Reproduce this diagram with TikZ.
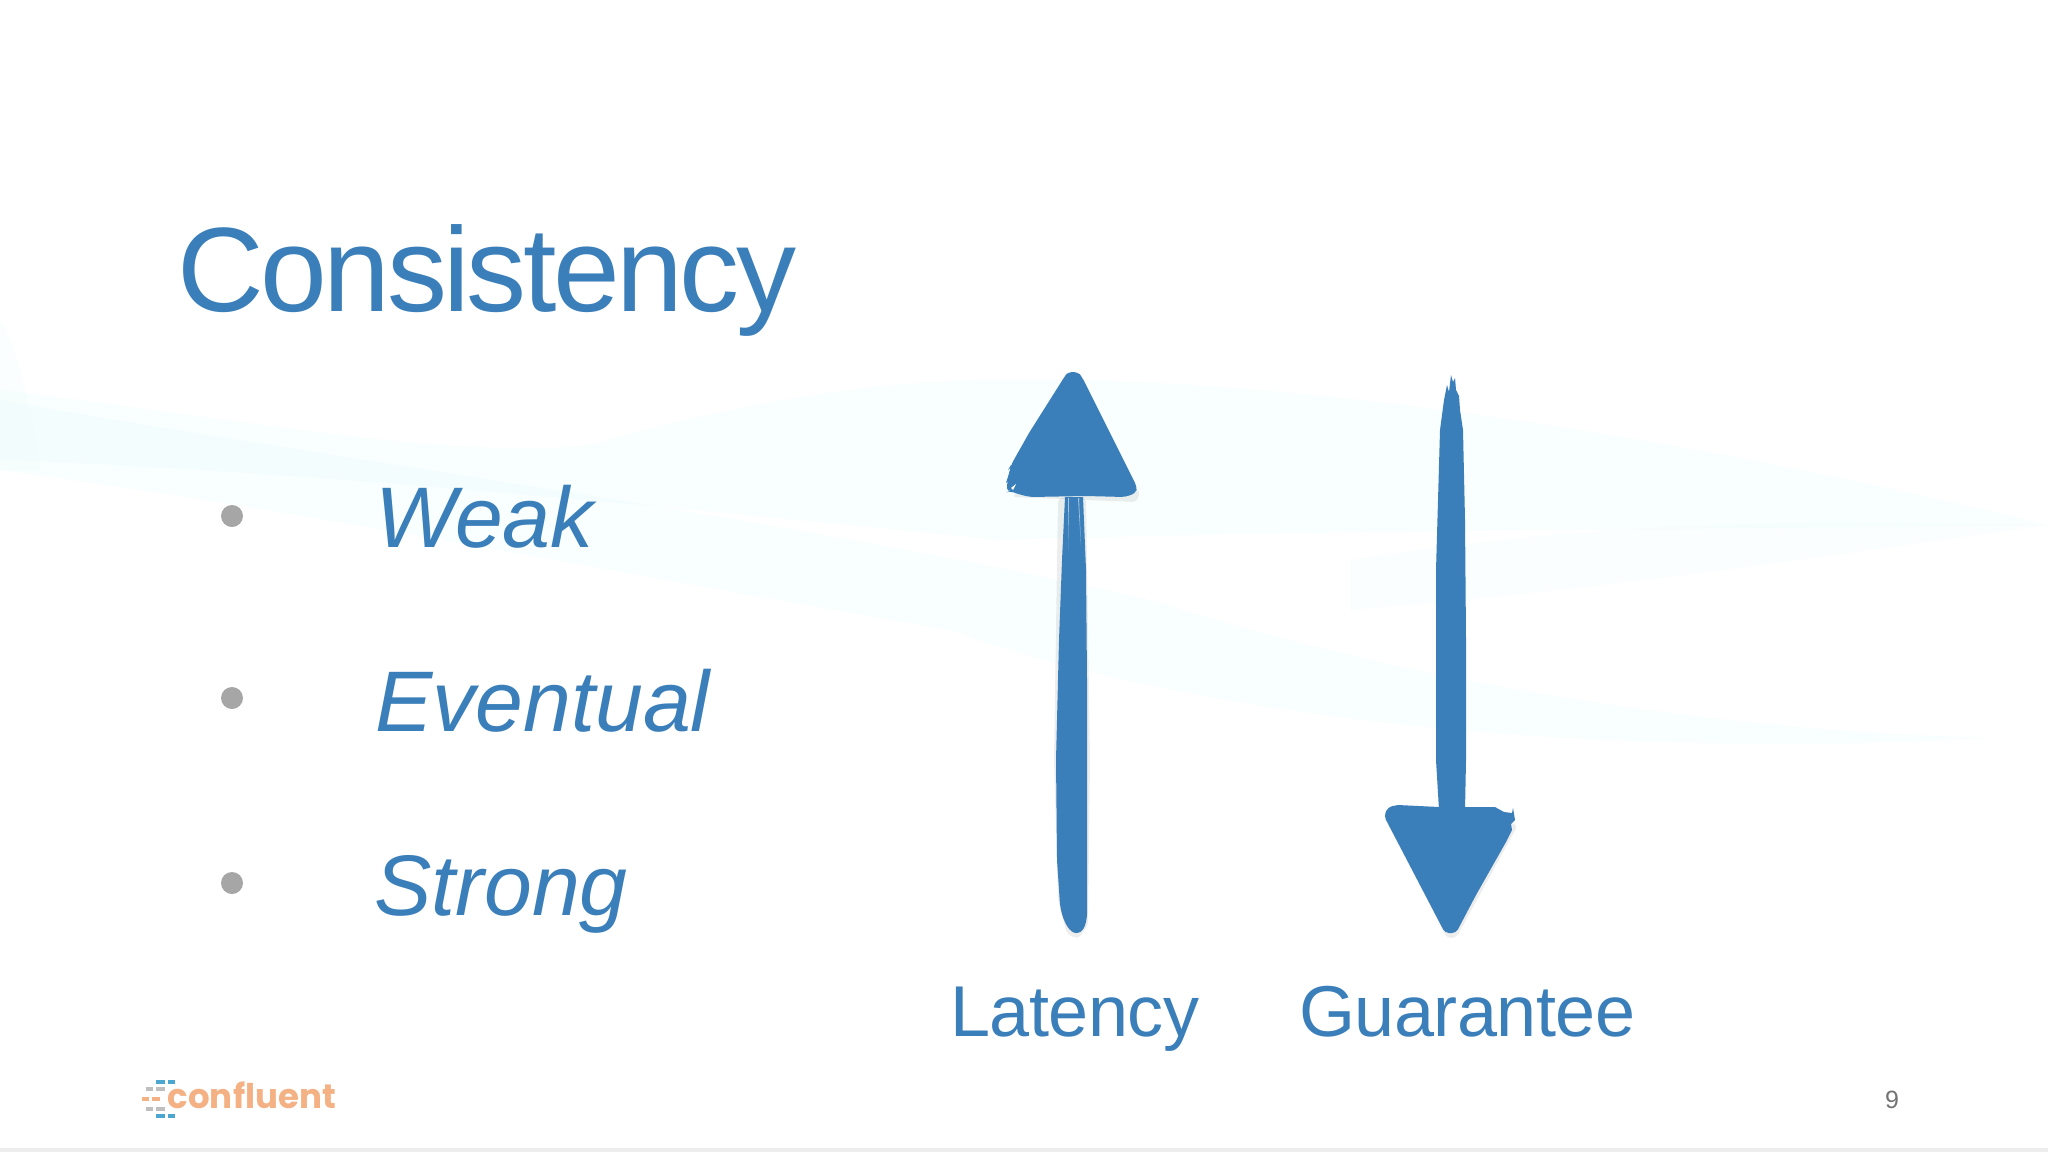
\documentclass[tikz,border=0pt]{standalone}
\usepackage{fontspec}
\setmainfont{Liberation Sans}
\newfontfamily\logofont{Poppins}
\definecolor{slideblue}{HTML}{3B7FBA}
\definecolor{bulletgray}{HTML}{A6A6A6}
\definecolor{wavecyan}{HTML}{E6FBFB}
\definecolor{logoorange}{HTML}{F4B183}
\definecolor{logoblue}{HTML}{4BA6D0}
\begin{document}
\begin{tikzpicture}[x=0.5pt,y=-0.5pt,
  lbl/.style={inner sep=0pt,anchor=base west,text=slideblue},
  title/.style={lbl,font=\fontsize{60}{60}\selectfont\addfontfeature{LetterSpace=-2.9}},
  item/.style={lbl,font=\fontsize{43}{43}\selectfont\itshape},
  axis/.style={lbl,font=\fontsize{36}{36}\selectfont\addfontfeature{LetterSpace=-0.8}},
  bull/.style={circle,fill=bulletgray,minimum size=11pt,inner sep=0pt},
  brush/.style={fill=slideblue,rounded corners=2pt},
  shade/.style={fill=black,opacity=0.07,rounded corners=2pt},
  wave/.style={fill=wavecyan,opacity=0.22},
  dsh/.style={line width=1.8pt}]
\useasboundingbox (0,0) rectangle (2048,1152);
\fill[white] (0,0) rectangle (2048,1152);
% background waves
\fill[wave] (0,390) .. controls (250,420) and (450,460) .. (590,445) .. controls (750,400) and (880,380) .. (1000,380) .. controls (1300,375) and (1700,440) .. (2048,525) .. controls (1700,530) and (1300,530) .. (1000,540) .. controls (700,510) and (300,470) .. (0,460) -- cycle;
\fill[wave] (0,400) .. controls (400,470) and (800,520) .. (1150,600) .. controls (1400,680) and (1700,730) .. (1990,738) .. controls (1600,760) and (1200,720) .. (950,630) .. controls (600,570) and (300,510) .. (0,470) -- cycle;
\fill[wavecyan,opacity=0.12] (0,320) .. controls (15,340) and (30,400) .. (40,470) -- (0,470) -- cycle;
\fill[wavecyan,opacity=0.12] (1350,560) .. controls (1600,520) and (1800,520) .. (2048,525) .. controls (1800,560) and (1600,590) .. (1350,610) -- cycle;
\fill[black!7] (0,1148) rectangle (2048,1152);
% title and items
\node[title] (ttl) at (177,311) {Consistency};
\node[bull] (b1) at (232,516) {};
\node[bull] (b2) at (232,698) {};
\node[bull] (b3) at (232,883) {};
\node[item] (weak) at (375,547) {Weak};
\node[item] (even) at (375,731) {Eventual};
\node[item] (strg) at (374,915) {Strong};
% arrow shadows
\fill[shade] (1058,498) -- (1054,760) -- (1058,900) -- (1067,934) -- (1078,939) -- (1088,925) -- (1090,760) -- (1086,498) -- cycle;
\fill[shade] (1012,497) -- (1137,502) -- (1140,490) -- (1020,488) -- cycle;
\fill[shade] (1383,815) -- (1447,938) -- (1456,938) -- (1518,825) -- (1500,820) -- cycle;
% up arrow
\fill[brush] (1065,497) -- (1062,560) -- (1059,640) -- (1056,760) -- (1057,860) -- (1060,905) [sharp corners] .. controls (1064,925) and (1071,933) .. (1076,933) .. controls (1083,933) and (1086,926) .. (1087,915) -- (1087,800) -- (1087,680) -- (1086,570) -- (1083,497) -- cycle;
\fill[brush] (1065,376) -- (1068,372) -- (1078,372) -- (1082,377) -- (1137,487) -- (1136,493) -- (1125,497) -- (1086,496) -- (1030,497) -- (1018,494) -- (1010,491) -- (1007,492) -- (1007,484) -- (1011,465) -- (1029,433) -- cycle;
\fill[white,opacity=.55] (1068,498) -- (1069,498) -- (1068,550) -- cycle (1078,498) -- (1079,498) -- (1081,545) -- cycle;
\fill[white] (1011,488) -- (1016,484) -- (1013,490) -- cycle;
% left-edge fraying of up head
\fill[slideblue] (1011,465) -- (1008,470) -- (1011,467) -- (1006,483) -- (1012,478) -- cycle;
% down arrow
\fill[slideblue] (1451,375) -- (1453,382) -- (1455,378) -- (1456,390) -- (1459,396) -- (1460,410) -- (1463,430) -- (1465,520) -- (1466,640) -- (1466,760) -- (1465,810) -- (1439,810) -- (1436,760) -- (1436,570) -- (1440,430) -- (1444,400) -- (1447,385) -- (1449,392) -- cycle;
\fill[slideblue] (1388,807) -- (1398,805) -- (1439,807) -- (1465,807) -- (1495,807) -- (1504,812) -- (1512,813) -- (1513,808) -- (1515,820) -- (1511,824) -- (1512,830) -- (1506,842) [rounded corners=2pt] -- (1476,895) -- (1456,933) -- (1445,933) -- (1384,816) -- cycle;
% labels
\node[axis] (lat) at (950,1036) {Latency};
\node[axis] (gua) at (1299,1036) {Guarantee};
\node[inner sep=0pt,anchor=base,text=black!55,font=\fontsize{12.5}{12.5}\selectfont] (pg) at (1892,1108) {9};
% logo
\node[inner sep=0pt,anchor=base west,text=logoorange,font=\logofont\bfseries\fontsize{17}{17}\selectfont\addfontfeature{LetterSpace=0.5}] (logo) at (167,1108) {confluent};
\draw[dsh,logoblue] (156,1082) -- (165,1082) (168,1082) -- (175,1082) (156,1116) -- (165,1116) (168,1116) -- (175,1116);
\draw[dsh,black!25] (146,1089) -- (153,1089) (156,1089) -- (165,1089) (146,1109) -- (153,1109) (156,1109) -- (165,1109);
\draw[dsh,logoorange] (142,1099) -- (149,1099) (152,1099) -- (160,1099);
\end{tikzpicture}
\end{document}
